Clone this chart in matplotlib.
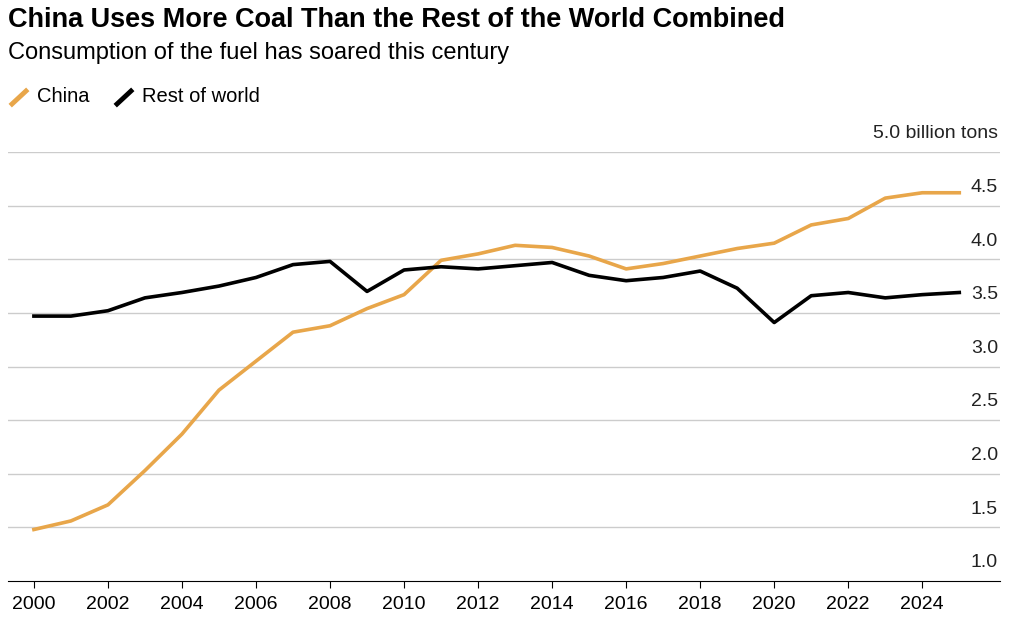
import matplotlib
matplotlib.use("Agg")
import matplotlib.pyplot as plt
from matplotlib.lines import Line2D

years = list(range(2000, 2026))
china = [1.48,1.56,1.71,2.03,2.37,2.78,3.05,3.32,3.38,3.54,3.67,3.99,4.05,4.13,4.11,4.03,3.91,3.96,4.03,4.10,4.15,4.32,4.38,4.57,4.62,4.62]
rest = [3.47,3.47,3.52,3.64,3.69,3.75,3.83,3.95,3.98,3.70,3.90,3.93,3.91,3.94,3.97,3.85,3.80,3.83,3.89,3.73,3.41,3.66,3.69,3.64,3.67,3.69]
yticks = [1.0,1.5,2.0,2.5,3.0,3.5,4.0,4.5,5.0]
ylabels = ["1.0","1.5","2.0","2.5","3.0","3.5","4.0","4.5","5.0 billion tons"]

plt.rcParams['font.family'] = ['Liberation Sans', 'DejaVu Sans']
fig = plt.figure(figsize=(10.24, 6.29), dpi=100)
ax = fig.add_axes([8/1024, 1-581/629, 992/1024, 429/629])
orange = '#E8A64A'
ax.plot(years, china, color=orange, lw=2.6)
ax.plot(years, rest, color='black', lw=2.6)
ax.set_xlim(1999.3, 2026.1)
ax.set_ylim(1.0, 5.0)
for y, l in zip(yticks, ylabels):
    if y > 1.0:
        ax.axhline(y, color='#cccccc', lw=1, zorder=0)
    ax.text(0.998, y + 0.17, l, transform=ax.get_yaxis_transform(),
            ha='right', va='center', fontsize=14, color='#222222', clip_on=False)
ax.set_yticks([])
for s in ['top', 'right', 'left']:
    ax.spines[s].set_visible(False)
ax.spines['bottom'].set_color('black')
ax.set_xticks(range(2000, 2026, 2))
ax.tick_params(axis='x', labelsize=14, length=5, color='black', pad=6)
fig.text(8/1024, 1-20/629, "China Uses More Coal Than the Rest of the World Combined", fontsize=19.5, fontweight='bold', va='center')
fig.text(8/1024, 1-53/629, "Consumption of the fuel has soared this century", fontsize=17, va='center')
handles = [Line2D([], [], color=orange, lw=3.5, marker=(2, 0, -45), markersize=0, linestyle='none'),
           Line2D([], [], color='black', lw=3.5, linestyle='none')]
# draw diagonal legend marks manually
for x0, c, lab in [(12, orange, 'China'), (117, 'black', 'Rest of world')]:
    fig.add_artist(Line2D([x0/1024, (x0+14)/1024], [1-104/629, 1-91/629], color=c, lw=3.5, transform=fig.transFigure))
    fig.text((x0+25)/1024, 1-97/629, lab, fontsize=14.5, va='center')
fig.savefig('out.png', dpi=100)
